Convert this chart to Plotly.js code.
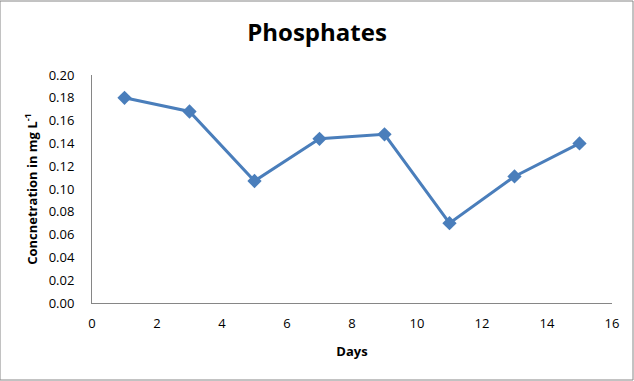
<!DOCTYPE html>
<html>
<head>
<meta charset="utf-8">
<script src="https://cdn.plot.ly/plotly-3.0.1.min.js"></script>
<style>html,body{margin:0;padding:0;background:#fff;}#chart{width:634px;height:381px;}</style>
</head>
<body>
<div id="chart"></div>
<script>
const days = [1, 3, 5, 7, 9, 11, 13, 15];
const phosphates = [0.180, 0.168, 0.107, 0.144, 0.148, 0.070, 0.111, 0.140];
const xTicks = [0, 2, 4, 6, 8, 10, 12, 14, 16];
const yTicks = [0, 0.02, 0.04, 0.06, 0.08, 0.10, 0.12, 0.14, 0.16, 0.18, 0.20];

const FONT = '"Open Sans", "Liberation Sans", sans-serif';

const trace = {
  x: days,
  y: phosphates,
  type: 'scatter',
  mode: 'lines+markers',
  line: {color: '#4a7ebb', width: 3},
  marker: {symbol: 'diamond', size: 11, color: '#4a7ebb'},
  showlegend: false,
  hoverinfo: 'x+y'
};

const layout = {
  width: 634,
  height: 381,
  margin: {l: 92, r: 22, t: 75, b: 78},
  paper_bgcolor: '#ffffff',
  plot_bgcolor: '#ffffff',
  font: {family: FONT, color: '#000', size: 13},
  title: {
    text: '<b>Phosphates</b>',
    font: {family: FONT, size: 24, color: '#000'},
    x: 0.5, xanchor: 'center',
    y: 0.915, yanchor: 'middle'
  },
  xaxis: {
    range: [0, 16],
    tickvals: xTicks,
    ticktext: xTicks.map(String),
    showgrid: false,
    zeroline: false,
    showline: true,
    linecolor: '#868686',
    linewidth: 1,
    ticks: '',
    ticklabelstandoff: 8,
    tickfont: {family: FONT, size: 13, color: '#000'},
    title: {text: '<b>Days</b>', font: {family: FONT, size: 13, color: '#000'}, standoff: 16}
  },
  yaxis: {
    range: [0, 0.20],
    tickvals: yTicks,
    ticktext: yTicks.map(v => v.toFixed(2)),
    showgrid: false,
    zeroline: false,
    showline: true,
    linecolor: '#868686',
    linewidth: 1,
    ticks: '',
    ticklabelstandoff: 14,
    tickfont: {family: FONT, size: 13, color: '#000'},
    title: {text: '<b>Concnetration in mg L<sup>-1</sup></b>', font: {family: FONT, size: 13, color: '#000'}, standoff: 8}
  },
  shapes: [{
    type: 'rect', xref: 'paper', yref: 'paper',
    x0: -92/520, x1: 1 + 21/520, y0: -77/228, y1: 1 + 74/228,
    line: {color: '#868686', width: 1}, fillcolor: 'rgba(0,0,0,0)'
  }]
};

Plotly.newPlot('chart', [trace], layout, {displayModeBar: false, staticPlot: true});
</script>
</body>
</html>
